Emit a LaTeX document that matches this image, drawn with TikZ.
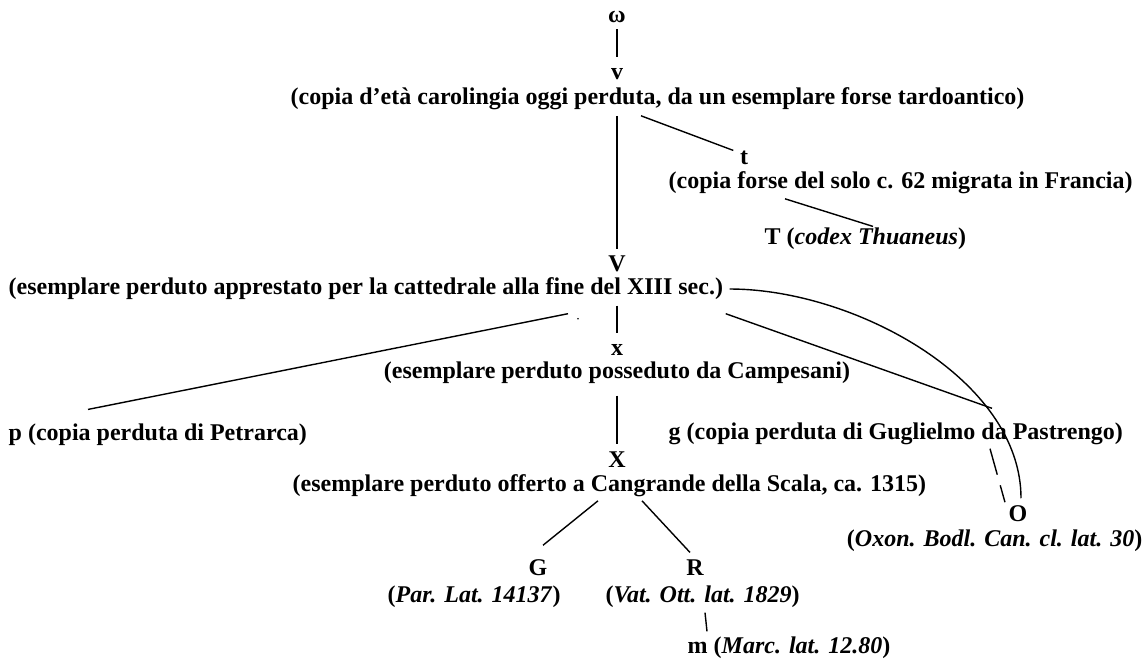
\documentclass[tikz,border=0pt]{standalone}
\usepackage{fontspec}
\setmainfont{Liberation Serif}
\usetikzlibrary{calc}

\begin{document}
\begin{tikzpicture}[x=1pt, y=-1pt, line width=1.4pt,
    lab/.style={font=\fontsize{24}{28}\selectfont\bfseries, inner sep=0pt}]
  \useasboundingbox (0,0) rectangle (1147,662);

  % upper part of the stemma
  \node[lab] (omega) at (617,17) {ω};
  \node[lab] (v) at (617,74) {v};
  \node[lab, anchor=west] (vlab) at (290,99) {(copia d’età carolingia oggi perduta, da un esemplare forse tardoantico)};
  \node[lab] (t) at (744,158) {t};
  \node[lab, anchor=west] (tlab) at (668,183) {(copia forse del solo c. 62 migrata in Francia)};
  \node[lab, anchor=west] (Tlab) at (764,239) {T (\textit{codex Thuaneus})};
  \node[lab] (V) at (617,264) {V};
  \node[lab, anchor=west] (Vlab) at (8,289) {(esemplare perduto apprestato per la cattedrale alla fine del XIII sec.)};

  \draw ($(omega.south)+(0,6)$) -- ($(v.north)+(0,-11)$);
  \draw ($(vlab.south -| v)+(0,5)$) -- ($(V.north)+(0,-6)$);
  \draw ($(vlab.south -| v)+(24,5)$) -- ($(t.north west)+(-6,0)$);
  \draw ($(tlab.south west)+(117,4)$) -- ($(Tlab.north west)+(109,-1)$);

  % lower part
  \node[lab] (x) at (617,350) {x};
  \node[lab] (xlab) at (617,373) {(esemplare perduto posseduto da Campesani)};
  \node[lab, anchor=west] (p) at (8,435) {p (copia perduta di Petrarca)};
  \node[lab, anchor=west] (g) at (668,434) {g (copia perduta di Guglielmo da Pastrengo)};
  \node[lab] (X) at (617,460) {X};
  \node[lab, anchor=west] (Xlab) at (292,486) {(esemplare perduto offerto a Cangrande della Scala, ca. 1315)};
  \node[lab] (O) at (1018,514) {O};
  \node[lab, anchor=east] (Olab) at (1143,541) {(\textit{Oxon. Bodl. Can. cl. lat. 30})};
  \node[lab] (G) at (538,568) {G};
  \node[lab, anchor=west] (Glab) at (387,597) {(\textit{Par. Lat. 14137})};
  \node[lab] (R) at (695,568) {R};
  \node[lab, anchor=west] (Rlab) at (605,597) {(\textit{Vat. Ott. lat. 1829})};
  \node[lab, anchor=west] (m) at (687,648) {m (\textit{Marc. lat. 12.80})};

  \draw ($(Vlab.south -| V)+(0,5)$) -- ($(x.north)+(0,-11)$);
  \draw ($(p.north west)+(80,-14)$) -- ($(Vlab.south west)+(560,13)$);
  \fill ($(Vlab.south west)+(570,18)$) circle (0.9pt);
  \draw ($(Vlab.south east)+(2,13)$) -- ($(g.north west)+(324,-14)$);
  \draw ($(Vlab.east)+(6,0)$) .. controls +(124,0) and +(0,-119) .. ($(O.north)+(3,-7)$);
  \draw[dash pattern=on 27pt off 11pt] ($(g.south west)+(322,3)$) -- ($(O.north west)+(-3,-3)$);
  \draw ($(xlab.south -| x)+(0,11)$) -- ($(X.north)+(0,-7)$);
  \draw ($(Xlab.south -| X)+(-19,3)$) -- ($(G.north)+(5,-14)$);
  \draw ($(Xlab.south -| X)+(25,3)$) -- ($(R.north)+(-5,-7)$);
  \draw ($(Rlab.south -| R)+(10,4)$) -- ($(m.north west)+(20,-5)$);
\end{tikzpicture}
\end{document}
